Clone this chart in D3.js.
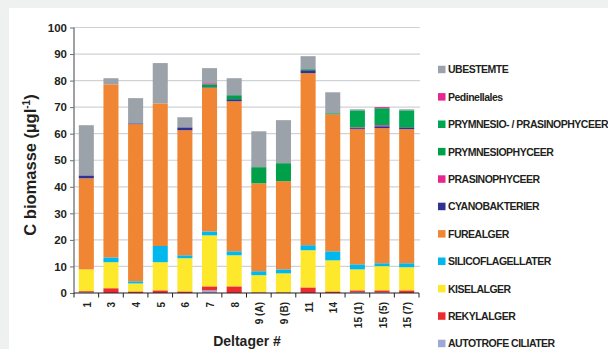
<!DOCTYPE html>
<html><head><meta charset="utf-8">
<script src="https://cdn.jsdelivr.net/npm/d3@7"></script>
<style>
html,body{margin:0;padding:0;background:#eff0f0;}
svg{display:block;font-family:"Liberation Sans",Arial,sans-serif;font-weight:bold;}
</style></head>
<body><svg id="chart" width="608" height="349"></svg>
<script>
const categories = ["1","3","4","5","6","7","8","9 (A)","9 (B)","11","14","15 (1)","15 (5)","15 (7)"];
// series values (µg/l), bottom to top of stack
const autotrofeCiliater   = [0.3,0,0,0,0,1.0,0,0,0,0,0,0.4,0.25,0];
const rekylalger          = [0.4,1.8,0.6,1.0,0.6,1.5,2.5,0.25,0.25,2.1,0.6,0.6,0.75,1.0];
const kiselalger          = [8.2,9.8,3.0,10.6,12.5,19.2,11.7,6.45,7.15,14.0,11.7,7.9,9.1,8.7];
const silicoflagellater   = [0,1.8,0.8,6.1,1.1,1.5,1.5,1.5,1.5,1.9,3.4,1.9,1.1,1.5];
const furealger           = [34.3,65.2,59.2,53.7,47.1,54.1,56.5,33.1,33.2,64.8,51.6,50.9,50.9,50.5];
const cyanobakterier      = [1.1,0,0.3,0,1.1,0.2,0.8,0,0,1.1,0,0.4,0.7,0.7];
const prasinophyceer      = [0,0,0,0,0,0,0,0,0,0,0,0.3,0.4,0];
const prymnesiophyceer    = [0,0,0,0,0,1.1,1.5,6.1,6.8,0.4,0.4,0,0,0];
const prymnesioPrasino    = [0,0,0,0,0,0,0,0,0,0,0,6.4,6.4,6.4];
const pedinellales        = [0,0,0,0,0,0.4,0,0,0,0,0,0,0.4,0];
const ubestemte           = [18.9,2.3,9.5,15.2,3.8,5.7,6.4,13.5,16.2,4.9,7.9,0.4,0,0.4];

const seriesNames = ["AUTOTROFE CILIATER","REKYLALGER","KISELALGER","SILICOFLAGELLATER","FUREALGER",
  "CYANOBAKTERIER","PRASINOPHYCEER","PRYMNESIOPHYCEER","PRYMNESIO- / PRASINOPHYCEER","Pedinellales","UBESTEMTE"];
const seriesValues = [autotrofeCiliater,rekylalger,kiselalger,silicoflagellater,furealger,
  cyanobakterier,prasinophyceer,prymnesiophyceer,prymnesioPrasino,pedinellales,ubestemte];
const seriesColors = ["#9fa8d5","#ec2b2f","#fde82c","#00b7ee","#f08533",
  "#2f3193","#e6278e","#00a04b","#00a650","#e6278e","#9ba2a9"];
const yTicks = [0,10,20,30,40,50,60,70,80,90,100];

const svg = d3.select("#chart");
svg.append("rect").attr("x",9).attr("y",8).attr("width",599).attr("height",341).attr("fill","#ffffff");

const table = categories.map((c,i)=>{const o={cat:c}; seriesNames.forEach((s,j)=>o[s]=seriesValues[j][i]); return o;});
const stacked = d3.stack().keys(seriesNames)(table);

const x = d3.scaleBand().domain(categories).range([74,419]).paddingInner(0.39).paddingOuter(0.195);
const y = d3.scaleLinear().domain([0,100]).range([293,27.5]);

// gridlines
svg.append("g").selectAll("line").data(yTicks.filter(d=>d>0)).join("line")
  .attr("x1",74).attr("x2",420).attr("y1",d=>y(d)).attr("y2",d=>y(d))
  .attr("stroke","#cfd2d6").attr("stroke-width",1.2);

// bars
svg.append("g").selectAll("g").data(stacked).join("g")
  .attr("fill",(d,i)=>seriesColors[i])
  .selectAll("rect").data(d=>d).join("rect")
  .attr("x",d=>x(d.data.cat)).attr("width",x.bandwidth())
  .attr("y",d=>y(d[1])).attr("height",d=>Math.max(0,y(d[0])-y(d[1])));

// y axis
const yAxis = svg.append("g").attr("transform","translate(74,0)")
  .call(d3.axisLeft(y).tickValues(yTicks).tickSize(4).tickPadding(3));
yAxis.select(".domain").attr("stroke","#6d6e70").attr("stroke-width",1.3).attr("d","M0,"+y(100)+"V"+y(0));
yAxis.selectAll(".tick line").attr("stroke","#6d6e70");
yAxis.selectAll("text").attr("font-size","11.5px").attr("font-weight","bold").attr("fill","#231f20")
  .attr("font-family","Liberation Sans, Arial, sans-serif");

// x axis
const xAxis = svg.append("g").attr("transform","translate(0,293)")
  .call(d3.axisBottom(x).tickSize(0).tickPadding(0));
xAxis.select(".domain").attr("stroke","#231f20").attr("stroke-width",1.2).attr("d","M74,0H419");
xAxis.selectAll(".tick text")
  .attr("font-size","10px").attr("font-weight","bold").attr("fill","#231f20")
  .attr("font-family","Liberation Sans, Arial, sans-serif")
  .attr("text-anchor","end").attr("dy",null)
  .attr("transform","translate(4.5,9) rotate(-90)");
// boundary ticks between categories
const step = x.step();
svg.append("g").selectAll("line").data(d3.range(0,categories.length+1)).join("line")
  .attr("x1",i=>74+i*step).attr("x2",i=>74+i*step).attr("y1",293).attr("y2",297.5)
  .attr("stroke","#231f20").attr("stroke-width",1);

// axis titles
svg.append("text").attr("transform","translate(36,165) rotate(-90)")
  .attr("text-anchor","middle").attr("font-size","16.5px").attr("fill","#231f20")
  .html('C biomasse (µgl<tspan dy="-6" font-size="10px">-1</tspan><tspan dy="6">)</tspan>');
svg.append("text").attr("x",247).attr("y",345.5).attr("text-anchor","middle")
  .attr("font-size","14px").attr("fill","#231f20").text("Deltager #");

// legend (top to bottom = reverse of stack)
const legendOrder = d3.range(seriesNames.length).reverse();
const lg = svg.append("g").selectAll("g").data(legendOrder).join("g")
  .attr("transform",(d,i)=>"translate(438,"+(69.5+27.4*i)+")");
lg.append("rect").attr("x",0).attr("y",-3.8).attr("width",7.5).attr("height",7.5).attr("fill",d=>seriesColors[d]);
lg.append("text").attr("x",10).attr("y",3.8).attr("font-size","10.5px").attr("letter-spacing","-0.5px")
  .attr("fill","#231f20").text(d=>seriesNames[d]);
</script></body></html>
